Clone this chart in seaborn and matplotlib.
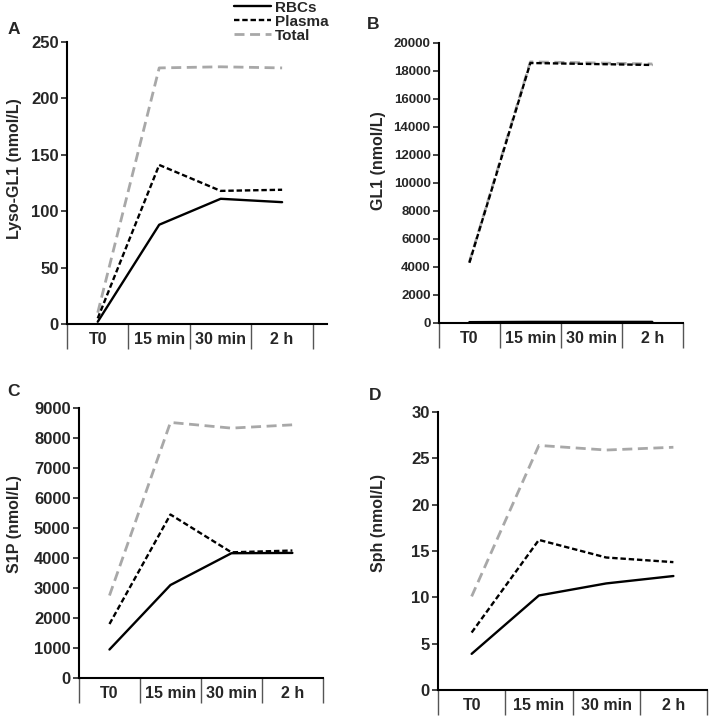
import matplotlib.pyplot as plt
import seaborn as sns
from matplotlib.ticker import FixedLocator
from matplotlib.lines import Line2D
from matplotlib import font_manager

sns.set_style('ticks')
plt.rcParams['font.family'] = ['Liberation Sans', 'DejaVu Sans']
plt.rcParams['font.weight'] = 'bold'
plt.rcParams['axes.labelweight'] = 'bold'

times = ['T0', '15 min', '30 min', '2 h']

# Lyso-GL1
lyso_rbc = [2, 88, 111, 108]
lyso_plasma = [5, 141, 118, 119]
lyso_total = [10, 227, 228, 227]
# GL1
gl1_rbc = [60, 80, 80, 80]
gl1_plasma = [4300, 18570, 18500, 18430]
gl1_total = [4350, 18650, 18580, 18500]
# S1P
s1p_rbc = [950, 3100, 4160, 4170]
s1p_plasma = [1800, 5450, 4190, 4250]
s1p_total = [2750, 8520, 8330, 8440]
# Sph
sph_rbc = [3.9, 10.2, 11.5, 12.3]
sph_plasma = [6.2, 16.2, 14.3, 13.8]
sph_total = [10.1, 26.4, 25.9, 26.2]

gray = '#a8a8a8'
styles = {
    'Total': dict(color=gray, linewidth=2.0, linestyle=(0, (3.6, 2.0))),
    'Plasma': dict(color='black', linewidth=1.7, linestyle=(0, (2.3, 1.2))),
    'RBCs': dict(color='black', linewidth=1.7, linestyle='-'),
}

# narrow face for the crowded GL1 tick labels, if it is installed
names = {f.name for f in font_manager.fontManager.ttflist}
narrow = 'Liberation Sans Narrow' if 'Liberation Sans Narrow' in names else None

panels = [
    # letter, ylabel, data, ymax, step, rect, xmax, label coords, letter xy, narrow ticks
    ('A', 'Lyso-GL1 (nmol/L)', (lyso_rbc, lyso_plasma, lyso_total), 250, 50,
     [0.0945, 0.55, 0.3667, 0.3917], 3.73, (-0.175, 0.55), (0.010, 0.953), False),
    ('B', 'GL1 (nmol/L)', (gl1_rbc, gl1_plasma, gl1_total), 20000, 2000,
     [0.619, 0.5514, 0.344, 0.3889], 3.5, (-0.217, 0.58), (0.518, 0.960), True),
    ('C', 'S1P (nmol/L)', (s1p_rbc, s1p_plasma, s1p_total), 9000, 1000,
     [0.1114, 0.0583, 0.344, 0.375], 3.5, (-0.233, 0.57), (0.010, 0.450), False),
    ('D', 'Sph (nmol/L)', (sph_rbc, sph_plasma, sph_total), 30, 5,
     [0.6178, 0.0417, 0.3794, 0.386], 3.5, (-0.194, 0.60), (0.520, 0.444), False),
]

fig = plt.figure(figsize=(7.09, 7.2), dpi=100)

for letter, ylabel, (rbc, plasma, total), ymax, step, rect, xmax, lc, lxy, tight in panels:
    ax = fig.add_axes(rect)
    for name, vals in (('Total', total), ('Plasma', plasma), ('RBCs', rbc)):
        sns.lineplot(x=times, y=vals, ax=ax, sort=False, legend=False, **styles[name])
    ax.set_xlim(-0.5, xmax)
    ax.set_ylim(0, ymax)
    ax.set_yticks(range(0, ymax + 1, step))
    ax.set_xticks(range(len(times)))
    ax.set_xticklabels(times)
    ax.xaxis.set_minor_locator(FixedLocator([-0.5, 0.5, 1.5, 2.5, 3.5]))
    ax.tick_params(axis='x', which='major', length=0, pad=6, labelsize=11.5)
    ax.tick_params(axis='x', which='minor', length=18, width=1, color='#555555', direction='out')
    ax.tick_params(axis='y', which='major', length=4, width=1.2, labelsize=12, pad=2)
    if tight:
        for t in ax.get_yticklabels():
            if narrow:
                t.set_family(narrow)
                t.set_fontsize(11.5)
            else:
                t.set_fontsize(9.5)
    for sp in ('top', 'right'):
        ax.spines[sp].set_visible(False)
    for sp in ('left', 'bottom'):
        ax.spines[sp].set_linewidth(1.5)
        ax.spines[sp].set_color('black')
    ax.set_xlabel('')
    ax.set_ylabel(ylabel, fontsize=11.5)
    ax.yaxis.set_label_coords(*lc)
    fig.text(lxy[0], lxy[1], letter, fontsize=12.5, fontweight='bold')

handles = [Line2D([], [], **styles[n]) for n in ('RBCs', 'Plasma', 'Total')]
fig.legend(handles, ['RBCs', 'Plasma', 'Total'], loc='upper left',
           bbox_to_anchor=(0.315, 1.014), frameon=False, fontsize=11,
           handlelength=2.4, handletextpad=0.3, labelspacing=0.0, borderpad=0.2)

fig.savefig('out.png', dpi=100)
